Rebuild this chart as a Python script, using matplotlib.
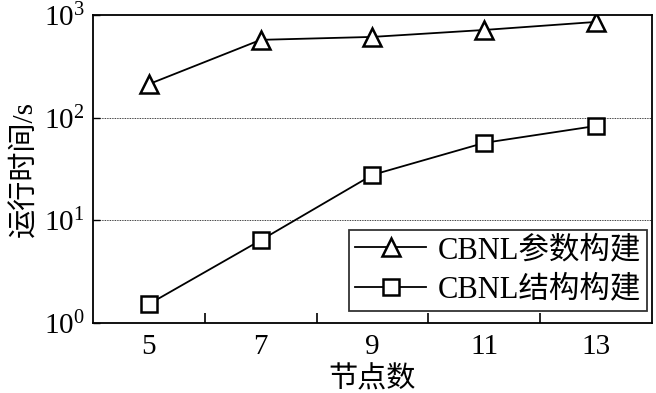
import matplotlib
matplotlib.use('Agg')
import matplotlib.pyplot as plt
from matplotlib.ticker import FixedLocator, NullLocator

# data
nodes = [5, 7, 9, 11, 13]
param_time = [212, 572, 611, 714, 855]      # CBNL参数构建
struct_time = [1.53, 6.4, 27.7, 56.8, 83]    # CBNL结构构建
labels = ['CBNL参数构建', 'CBNL结构构建']

plt.rcParams['font.family'] = ['Liberation Serif', 'Noto Sans CJK SC']
plt.rcParams['mathtext.fontset'] = 'stix'

fig = plt.figure(figsize=(6.56, 3.93), dpi=100)
ax = fig.add_axes([0.1418, 0.178, 0.852, 0.784])

ax.plot(nodes, param_time, color='black', lw=1.3, marker='^', ms=13,
        mfc='white', mec='black', mew=1.8, label=labels[0])
ax.plot(nodes, struct_time, color='black', lw=1.3, marker='s', ms=12,
        mfc='white', mec='black', mew=1.8, label=labels[1])

ax.set_yscale('log')
ax.set_ylim(1, 1000)
ax.set_xlim(4, 14)

# grid only at 10 and 100
for g in [10, 100]:
    ax.axhline(g, color='black', lw=0.6, ls=(0, (1, 1)), zorder=0)

ax.xaxis.set_major_locator(FixedLocator(nodes))
ax.xaxis.set_minor_locator(FixedLocator([6, 8, 10, 12]))
ax.tick_params(axis='x', which='major', length=0, labelsize=21, pad=8)
ax.tick_params(axis='x', which='minor', direction='in', length=7, width=1.2)
ax.yaxis.set_major_locator(FixedLocator([1, 10, 100, 1000]))
ax.yaxis.set_minor_locator(NullLocator())
ax.tick_params(axis='y', which='major', direction='in', length=5, width=1.0, labelsize=21, pad=6)

for s in ax.spines.values():
    s.set_linewidth(1.3)

ax.set_xlabel('节点数', fontsize=21, labelpad=4)
ax.set_ylabel('运行时间/s', fontsize=21, labelpad=4)

leg = ax.legend(loc='lower right', bbox_to_anchor=(0.992, 0.04), fontsize=22,
                frameon=True, fancybox=False, edgecolor='black',
                handlelength=2.3, handletextpad=0.4, borderpad=0.2,
                labelspacing=0.35, borderaxespad=0.0)
leg.get_frame().set_linewidth(1.3)

fig.savefig('out.png', dpi=100)
